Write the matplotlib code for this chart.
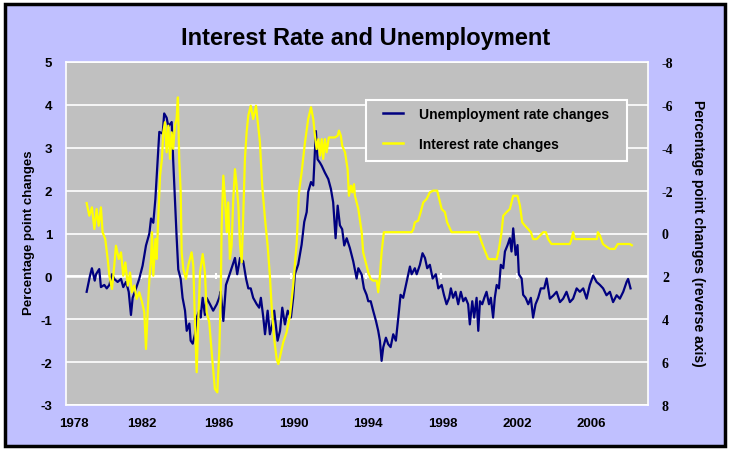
"""
interest rate vs unemployment chart
"""
import matplotlib
matplotlib.use('Agg')
import matplotlib.pyplot as plt
from matplotlib.patches import Rectangle
from matplotlib.lines import Line2D

# unemployment rate changes (left axis)
unemp_years = [1979.10, 1979.28, 1979.38, 1979.53, 1979.60, 1979.77, 1979.86, 1980.04, 1980.17, 1980.31,
               1980.45, 1980.57, 1980.75, 1980.93, 1981.05, 1981.20, 1981.34, 1981.46, 1981.55, 1981.73,
               1981.90, 1982.08, 1982.26, 1982.44, 1982.53, 1982.65, 1982.76, 1982.88, 1982.97, 1983.15,
               1983.23, 1983.36, 1983.45, 1983.63, 1983.71, 1983.80, 1983.89, 1983.98, 1984.11, 1984.21,
               1984.34, 1984.43, 1984.57, 1984.64, 1984.75, 1984.87, 1984.96, 1985.10, 1985.17, 1985.28,
               1985.40, 1985.49, 1985.67, 1985.84, 1986.03, 1986.16, 1986.24, 1986.38, 1986.52, 1986.64,
               1986.82, 1987.00, 1987.12, 1987.27, 1987.44, 1987.59, 1987.71, 1987.84, 1987.97, 1988.16,
               1988.29, 1988.38, 1988.51, 1988.60, 1988.74, 1988.86, 1988.99, 1989.09, 1989.27, 1989.40,
               1989.52, 1989.66, 1989.81, 1989.98, 1990.10, 1990.19, 1990.37, 1990.55, 1990.69, 1990.82,
               1990.90, 1991.05, 1991.17, 1991.22, 1991.31, 1991.40, 1991.53, 1991.62, 1991.79, 1991.97,
               1992.11, 1992.23, 1992.36, 1992.47, 1992.59, 1992.71, 1992.82, 1992.95, 1993.12, 1993.30,
               1993.48, 1993.57, 1993.75, 1993.87, 1994.01, 1994.10, 1994.23, 1994.36, 1994.51, 1994.63,
               1994.72, 1994.81, 1994.90, 1995.04, 1995.16, 1995.29, 1995.43, 1995.57, 1995.70, 1995.82,
               1995.96, 1996.11, 1996.23, 1996.32, 1996.41, 1996.58, 1996.68, 1996.85, 1996.99, 1997.12,
               1997.24, 1997.38, 1997.53, 1997.70, 1997.83, 1998.01, 1998.13, 1998.27, 1998.41, 1998.50,
               1998.62, 1998.75, 1998.89, 1999.03, 1999.16, 1999.28, 1999.42, 1999.51, 1999.64, 1999.74,
               1999.87, 1999.96, 2000.05, 2000.17, 2000.28, 2000.40, 2000.53, 2000.63, 2000.75, 2000.84,
               2000.94, 2001.06, 2001.16, 2001.29, 2001.38, 2001.52, 2001.64, 2001.73, 2001.82, 2001.95,
               2002.05, 2002.12, 2002.27, 2002.35, 2002.48, 2002.62, 2002.76, 2002.88, 2003.01, 2003.15,
               2003.29, 2003.47, 2003.60, 2003.77, 2003.95, 2004.13, 2004.31, 2004.48, 2004.66, 2004.84,
               2005.01, 2005.20, 2005.37, 2005.55, 2005.73, 2005.90, 2006.08, 2006.26, 2006.44, 2006.61,
               2006.79, 2006.97, 2007.14, 2007.33, 2007.50, 2007.68, 2007.86, 2007.94, 2008.07]
unemp = [-0.36, 0.02, 0.19, -0.10, 0.05, 0.17, -0.25, -0.20, -0.28, -0.20,
         0.05, -0.06, -0.13, -0.06, -0.25, -0.13, -0.36, -0.90, -0.50, -0.28,
         -0.06, 0.25, 0.72, 1.00, 1.35, 1.25, 1.80, 2.70, 3.37, 3.33,
         3.80, 3.70, 3.50, 3.60, 2.70, 1.80, 0.94, 0.16, -0.06, -0.50,
         -0.80, -1.27, -1.10, -1.50, -1.57, -1.35, -0.96, -0.80, -0.96, -0.50,
         -0.90, -0.50, -0.65, -0.80, -0.65, -0.50, -0.35, -1.04, -0.20, -0.05,
         0.19, 0.43, 0.05, 0.43, 0.35, -0.05, -0.28, -0.28, -0.50, -0.65,
         -0.73, -0.50, -0.96, -1.35, -0.80, -1.35, -1.12, -0.80, -1.50, -1.27,
         -0.73, -1.12, -0.80, -0.96, -0.50, 0.05, 0.28, 0.74, 1.27, 1.50,
         1.97, 2.20, 2.12, 2.58, 3.39, 2.73, 2.65, 2.58, 2.42, 2.27,
         2.04, 1.73, 0.89, 1.65, 1.19, 1.10, 0.72, 0.89, 0.66, 0.35,
         -0.05, 0.19, 0.04, -0.28, -0.43, -0.58, -0.58, -0.80, -1.04, -1.27,
         -1.50, -1.97, -1.65, -1.43, -1.58, -1.65, -1.35, -1.50, -0.96, -0.43,
         -0.50, -0.20, 0.04, 0.23, 0.05, 0.19, 0.05, 0.27, 0.54, 0.43,
         0.19, 0.27, -0.05, 0.05, -0.28, -0.20, -0.43, -0.65, -0.50, -0.28,
         -0.50, -0.36, -0.65, -0.36, -0.58, -0.50, -0.65, -1.12, -0.58, -0.96,
         -0.50, -1.27, -0.58, -0.65, -0.50, -0.36, -0.65, -0.50, -0.96, -0.50,
         -0.20, -0.28, 0.27, 0.19, 0.58, 0.73, 0.89, 0.58, 1.12, 0.50,
         0.73, 0.05, -0.05, -0.43, -0.50, -0.65, -0.50, -0.96, -0.65, -0.50,
         -0.28, -0.28, -0.05, -0.52, -0.45, -0.36, -0.60, -0.52, -0.36, -0.60,
         -0.52, -0.28, -0.36, -0.28, -0.52, -0.20, 0.02, -0.13, -0.20, -0.28,
         -0.44, -0.36, -0.60, -0.44, -0.52, -0.36, -0.13, -0.06, -0.28]

# interest rate changes (right axis, reversed)
rate_years = [1979.10, 1979.24, 1979.38, 1979.51, 1979.63, 1979.74, 1979.86, 1979.95, 1980.09, 1980.22,
              1980.31, 1980.45, 1980.57, 1980.66, 1980.81, 1980.93, 1981.05, 1981.16, 1981.29, 1981.41,
              1981.51, 1981.64, 1981.76, 1981.90, 1982.05, 1982.17, 1982.26, 1982.35, 1982.44, 1982.53,
              1982.58, 1982.65, 1982.76, 1982.83, 1982.94, 1983.01, 1983.11, 1983.18, 1983.27, 1983.36,
              1983.45, 1983.54, 1983.63, 1983.71, 1983.80, 1983.89, 1983.96, 1984.03, 1984.11, 1984.16,
              1984.25, 1984.39, 1984.51, 1984.69, 1984.78, 1984.87, 1984.96, 1985.05, 1985.14, 1985.28,
              1985.40, 1985.49, 1985.63, 1985.76, 1985.93, 1986.06, 1986.16, 1986.24, 1986.29, 1986.38,
              1986.47, 1986.56, 1986.64, 1986.73, 1986.82, 1986.91, 1987.00, 1987.09, 1987.18, 1987.27,
              1987.36, 1987.44, 1987.53, 1987.62, 1987.71, 1987.84, 1987.97, 1988.12, 1988.33, 1988.45,
              1988.60, 1988.74, 1988.86, 1988.95, 1989.09, 1989.22, 1989.31, 1989.45, 1989.57, 1989.75,
              1989.93, 1990.10, 1990.29, 1990.41, 1990.55, 1990.73, 1990.90, 1991.05, 1991.17, 1991.26,
              1991.35, 1991.44, 1991.53, 1991.62, 1991.70, 1991.79, 1991.88, 1992.00, 1992.15, 1992.32,
              1992.47, 1992.54, 1992.64, 1992.71, 1992.86, 1993.00, 1993.07, 1993.18, 1993.25, 1993.34,
              1993.39, 1993.57, 1993.75, 1993.83, 1993.92, 1994.10, 1994.23, 1994.36, 1994.55, 1994.63,
              1994.72, 1994.81, 1994.93, 1996.41, 1996.50, 1996.58, 1996.76, 1996.89, 1997.03, 1997.21,
              1997.38, 1997.56, 1997.77, 1997.88, 1998.01, 1998.18, 1998.30, 1998.54, 1999.96, 2000.14,
              2000.31, 2000.49, 2000.94, 2001.06, 2001.20, 2001.29, 2001.47, 2001.64, 2001.82, 2002.05,
              2002.18, 2002.30, 2002.44, 2002.62, 2002.76, 2002.88, 2003.07, 2003.24, 2003.42, 2003.56,
              2003.68, 2003.86, 2004.84, 2004.93, 2005.01, 2005.10, 2006.28, 2006.33, 2006.44, 2006.60,
              2006.76, 2006.97, 2007.23, 2007.39, 2008.03, 2008.14]
rate = [-1.42, -0.83, -1.22, -0.21, -1.14, -0.36, -1.22, -0.06, 0.26, 1.19,
        1.97, 2.59, 1.50, 0.57, 1.19, 0.88, 1.97, 1.35, 2.43, 1.82,
        2.74, 2.43, 3.05, 2.74, 3.20, 3.67, 5.39, 3.67, 2.12, 1.19,
        -0.06, 1.97, 0.26, 1.19, -1.30, -2.70, -3.48, -4.72, -5.19, -3.79,
        -5.03, -3.48, -4.72, -3.95, -5.03, -5.34, -6.35, -3.48, -1.92, 0.88,
        1.66, 2.12, 1.50, 0.88, 1.50, 4.14, 6.47, 3.98, 1.81, 0.96,
        1.81, 3.67, 4.14, 5.54, 7.25, 7.41, 5.54, 3.05, -0.36, -2.70,
        -1.61, -0.06, -1.45, 1.19, 0.57, -1.61, -3.00, -2.23, -1.30, 0.57,
        1.34, -0.83, -3.48, -4.72, -5.50, -5.96, -5.34, -5.96, -4.25, -2.23,
        -0.68, 0.57, 1.97, 3.37, 4.92, 5.85, 6.09, 5.54, 5.08, 4.61,
        3.83, 2.43, 0.41, -1.92, -2.85, -4.25, -5.34, -5.89, -5.34, -4.56,
        -3.94, -4.40, -3.63, -4.40, -3.48, -4.40, -3.79, -4.48, -4.48, -4.48,
        -4.56, -4.80, -4.56, -4.10, -3.79, -3.00, -1.76, -2.23, -1.92, -2.30,
        -1.76, -1.14, -0.06, 0.88, 1.19, 1.81, 2.12, 2.20, 2.20, 2.74,
        1.97, 0.88, -0.06, -0.06, -0.20, -0.52, -0.60, -0.99, -1.45, -1.61,
        -1.92, -2.00, -2.00, -1.61, -1.14, -1.00, -0.52, -0.06, -0.06, 0.41,
        0.80, 1.19, 1.20, 0.72, -0.06, -0.83, -1.00, -1.14, -1.76, -1.76,
        -1.30, -0.52, -0.37, -0.20, -0.06, 0.26, 0.26, 0.10, -0.06, -0.06,
        0.26, 0.49, 0.49, 0.26, -0.06, 0.26, 0.26, -0.06, 0.10, 0.49,
        0.60, 0.72, 0.72, 0.49, 0.49, 0.55]

tick_years = [1978, 1982, 1986, 1990, 1994, 1998, 2002, 2006]
label_pos = [1978.4, 1982.05, 1986.15, 1990.15, 1994.1, 1998.05, 2002.05, 2006.0]
year_labels = ['1978', '1982', '1986', '1990', '1994', '1998', '2002', '2006']

lavender = '#C0C0FF'
plotgray = '#C0C0C0'
navy = '#000080'
yellow = '#FFFF00'

plt.rcParams['font.family'] = ['Liberation Sans', 'DejaVu Sans']
plt.rcParams['axes.unicode_minus'] = False

fig = plt.figure(figsize=(7.3, 4.52), dpi=100)
fig.patch.set_facecolor('white')
# chart area with black frame, behind the axes
fig.patches.append(Rectangle((5/730, 5/452), 720/730, 442/452, transform=fig.transFigure,
                             facecolor=lavender, edgecolor='black', lw=2.5, zorder=-10))

ax = fig.add_axes([66/730, 1-406/452, 582/730, 343/452])
ax.set_facecolor(plotgray)
ax.set_xlim(1978, 2009)
ax.set_ylim(-3, 5)
ax.set_yticks(range(-3, 6))
ax.yaxis.grid(True, color='white', lw=1.2)
ax.set_axisbelow(True)
ax.axhline(0, color='white', lw=1.8, zorder=1)
ax.vlines(tick_years[1:], -0.07, 0.07, color='white', lw=1.5, zorder=1)
for s in ax.spines.values():
    s.set_color('white')
    s.set_linewidth(1.2)
ax.tick_params(length=0, labelsize=9.5)
ax.set_xticks(label_pos)
ax.set_xticklabels(year_labels, fontweight='bold')
ax.tick_params(axis='x', pad=9)
ax.tick_params(axis='y', pad=10)
for t in ax.get_yticklabels():
    t.set_fontweight('bold')

ax.plot(unemp_years, unemp, color=navy, lw=1.6, zorder=3)

ax2 = ax.twinx()
ax2.set_ylim(8, -8)
ax2.set_yticks(range(-8, 9, 2))
ax2.tick_params(length=0, pad=10)
for t in ax2.get_yticklabels():
    t.set_fontfamily('Liberation Serif')
    t.set_fontweight('bold')
    t.set_fontsize(10)
for s in ax2.spines.values():
    s.set_visible(False)
ax2.plot(rate_years, rate, color=yellow, lw=1.6, zorder=3)

# axis titles
fig.text(29/730, 1-233/452, 'Percentage point changes', rotation=90, ha='center', va='center',
         fontsize=9.5, fontweight='bold')
fig.text(698/730, 1-233/452, 'Percentage point changes (reverse axis)', rotation=270,
         ha='center', va='center', fontsize=10, fontweight='bold')

# legend box
ax2.add_patch(Rectangle((0.515, 0.711), 0.449, 0.178, transform=ax2.transAxes,
                        facecolor=plotgray, edgecolor='white', lw=1.5, zorder=5))
handles = [Line2D([], [], color=navy, lw=1.8), Line2D([], [], color=yellow, lw=1.8)]
leg = ax2.legend(handles, ['Unemployment rate changes', 'Interest rate changes'],
                 loc='upper left', bbox_to_anchor=(0.544, 0.868), frameon=False,
                 borderpad=0, borderaxespad=0, handlelength=1.5, handletextpad=1.1,
                 labelspacing=1.15, prop={'weight': 'bold', 'size': 10})
leg.set_zorder(6)

fig.text(366/730, 1-38/452, 'Interest Rate and Unemployment', ha='center', va='center',
         fontsize=17, fontweight='bold')

fig.savefig('out.png', dpi=100, facecolor=fig.get_facecolor())
